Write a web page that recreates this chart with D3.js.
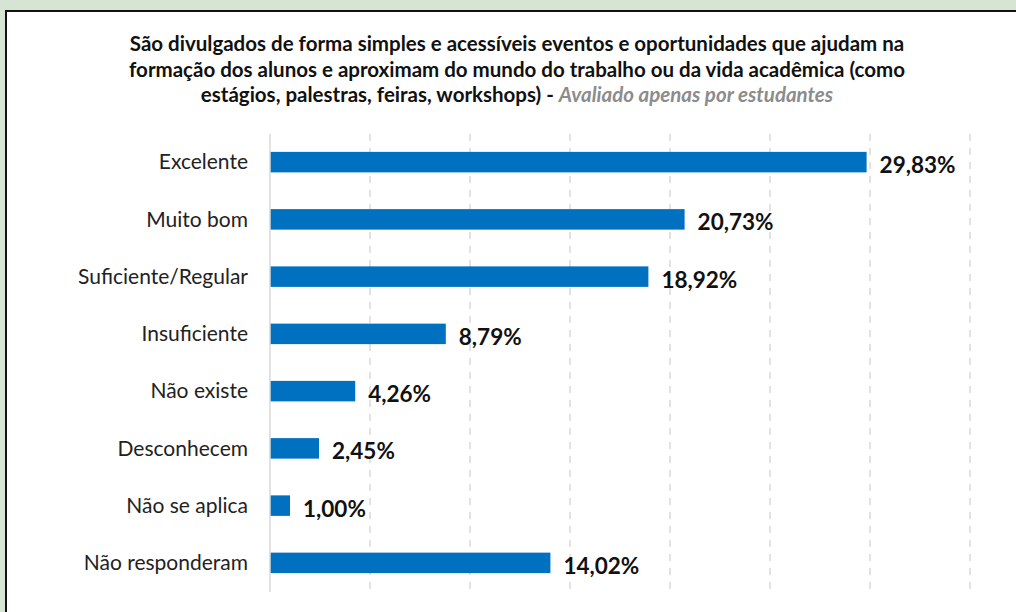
<!DOCTYPE html>
<html>
<head>
<meta charset="utf-8">
<script src="https://cdn.jsdelivr.net/npm/d3@7"></script>
<style>
  body { margin: 0; background: #d6e5d3; }
  svg { display: block; }
</style>
</head>
<body>
<div id="chart"></div>
<script>
// chart size fixed to the window
const width = 1016;
const height = 612;

// data
const categories = ["Excelente", "Muito bom", "Suficiente/Regular", "Insuficiente",
  "Não existe", "Desconhecem", "Não se aplica", "Não responderam"];
const values = [29.83, 20.73, 18.92, 8.79, 4.26, 2.45, 1.00, 14.02];
const gridTicks = [5, 10, 15, 20, 25, 30, 35];
const titleLines = [
  "São divulgados de forma simples e acessíveis eventos e oportunidades que ajudam na",
  "formação dos alunos e aproximam do mundo do trabalho ou da vida acadêmica (como",
  "estágios, palestras, feiras, workshops) - "
];
const titleNote = "Avaliado apenas por estudantes";

const font = "Lato, 'Open Sans', sans-serif";

const svg = d3.select("#chart")
  .append("svg")
  .attr("width", width)
  .attr("height", height);

// white panel with dark border on left/top
svg.append("rect")
  .attr("x", 6).attr("y", 11)
  .attr("width", width).attr("height", height)
  .attr("fill", "#fff")
  .attr("stroke", "#111")
  .attr("stroke-width", 2);

// title
const title = svg.append("text")
  .attr("text-anchor", "middle")
  .style("font-family", font)
  .style("font-weight", "bold")
  .style("font-size", "20.5px")
  .attr("fill", "#111");

title.selectAll("tspan.line")
  .data(titleLines)
  .enter()
  .append("tspan")
  .attr("class", "line")
  .attr("x", 517)
  .attr("y", (d, i) => 51 + i * 25.5)
  .text(d => d);

title.select("tspan.line:last-child")
  .append("tspan")
  .style("font-style", "italic")
  .attr("fill", "#8c8c8c")
  .text(titleNote);

// scales
const x = d3.scaleLinear().domain([0, 35]).range([270, 970]);
const y = d3.scaleBand().domain(categories).range([133.5, 591.5]);
const barH = 20.5;

// dashed gridlines
svg.append("g")
  .selectAll("line")
  .data(gridTicks)
  .enter()
  .append("line")
  .attr("x1", d => x(d)).attr("x2", d => x(d))
  .attr("y1", 134).attr("y2", 590)
  .attr("stroke", "#d9d9d9")
  .attr("stroke-width", 1.5)
  .attr("stroke-dasharray", "7,7");

// bars
svg.append("g")
  .selectAll("rect")
  .data(values)
  .enter()
  .append("rect")
  .attr("x", x(0))
  .attr("y", (d, i) => y(categories[i]) + y.bandwidth() / 2 - barH / 2)
  .attr("width", d => x(d) - x(0))
  .attr("height", barH)
  .attr("fill", "#0070c0");

// axis line
svg.append("line")
  .attr("x1", x(0)).attr("x2", x(0))
  .attr("y1", 134).attr("y2", 592)
  .attr("stroke", "#d9d9d9")
  .attr("stroke-width", 1.5);

// category labels
svg.append("g")
  .selectAll("text")
  .data(categories)
  .enter()
  .append("text")
  .attr("x", 248)
  .attr("y", d => y(d) + y.bandwidth() / 2)
  .attr("dy", "0.35em")
  .attr("text-anchor", "end")
  .style("font-family", font)
  .style("font-size", "21px")
  .attr("fill", "#222")
  .text(d => d);

// value labels
svg.append("g")
  .selectAll("text")
  .data(values)
  .enter()
  .append("text")
  .attr("x", d => x(d) + 13)
  .attr("y", (d, i) => y(categories[i]) + y.bandwidth() / 2 + 3)
  .attr("dy", "0.35em")
  .style("font-family", font)
  .style("font-weight", "bold")
  .style("font-size", "22.5px")
  .attr("fill", "#111")
  .text(d => d.toFixed(2).replace(".", ",") + "%");
</script>
</body>
</html>
